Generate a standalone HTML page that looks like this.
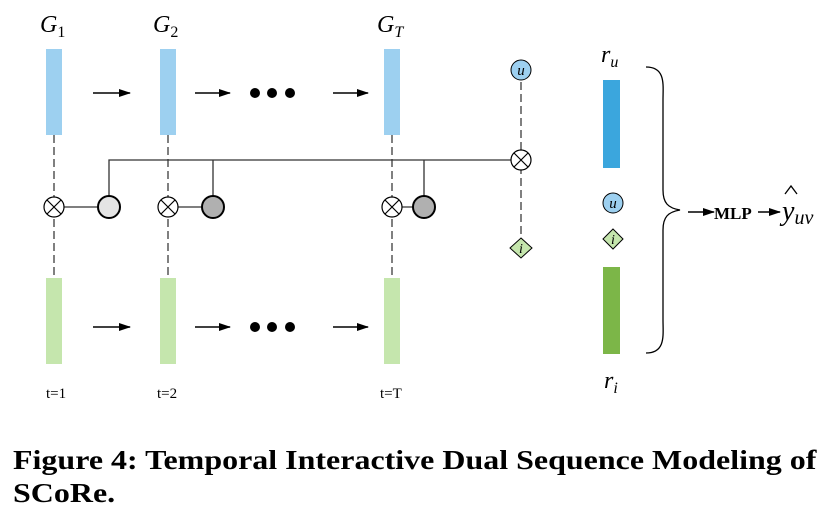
<!DOCTYPE html><html><head><style>body{margin:0;background:#fff}svg{display:block}</style></head><body>
<svg width="828" height="516" xmlns="http://www.w3.org/2000/svg" font-family="Liberation Serif, serif">
<defs><marker id="a" markerWidth="12" markerHeight="8" refX="11" refY="4" orient="auto" markerUnits="userSpaceOnUse"><path d="M0,0L12,4L0,8z" fill="#000"/></marker>
<g id="x"><circle r="10" fill="#fff" stroke="#000" stroke-width="1.2"/><path d="M-7,-7L7,7M7,-7L-7,7" stroke="#000" stroke-width="1.2"/></g></defs>
<g font-style="italic" font-size="24"><text x="40" y="32">G<tspan font-size="16" font-style="normal" dy="5">1</tspan></text>
<text x="153" y="32">G<tspan font-size="16" font-style="normal" dy="5">2</tspan></text>
<text x="377" y="32">G<tspan font-size="16" dy="5">T</tspan></text></g>
<g fill="#9dd0f0"><rect x="46" y="49" width="16" height="86"/><rect x="160" y="49" width="16" height="86"/><rect x="384" y="49" width="16" height="86"/></g>
<g fill="#c5e6ad"><rect x="46" y="278" width="16" height="86"/><rect x="160" y="278" width="16" height="86"/><rect x="384" y="278" width="16" height="86"/></g>
<g stroke="#000" stroke-dasharray="8,4" stroke-width="1"><path d="M54,135V278M168,135V278M392,135V278M521,82V248"/></g>
<g stroke="#000" stroke-width="1.5" marker-end="url(#a)"><path d="M93,93H130"/><path d="M195,93H230"/><path d="M333,93H368"/><path d="M93,327H130"/><path d="M195,327H230"/><path d="M333,327H368"/></g>
<g fill="#000"><circle cx="255" cy="93" r="5"/><circle cx="272" cy="93" r="5"/><circle cx="290" cy="93" r="5"/><circle cx="255" cy="327" r="5"/><circle cx="272" cy="327" r="5"/><circle cx="290" cy="327" r="5"/></g>
<g stroke="#333" stroke-width="1.3" fill="none"><path d="M109,196V160H511M213,196V160M424,196V160M54,207H100M168,207H203M392,207H414"/></g>
<circle cx="109" cy="207" r="11" fill="#e4e4e4" stroke="#000" stroke-width="2"/>
<circle cx="213" cy="207" r="11" fill="#b0b0b0" stroke="#000" stroke-width="2"/>
<circle cx="424" cy="207" r="11" fill="#b0b0b0" stroke="#000" stroke-width="2"/>
<use href="#x" x="54" y="207"/><use href="#x" x="168" y="207"/><use href="#x" x="392" y="207"/><use href="#x" x="521" y="160"/>
<circle cx="521" cy="70" r="10" fill="#9dd0f0" stroke="#000"/><text x="521" y="75" text-anchor="middle" font-style="italic" font-size="15">u</text>
<path d="M521,238L532,248L521,258L510,248z" fill="#c5e6ad" stroke="#000"/><text x="521" y="253" text-anchor="middle" font-style="italic" font-size="14">i</text>
<g font-size="15"><text x="46" y="398">t=1</text><text x="157" y="398">t=2</text><text x="380" y="398">t=T</text></g>
<text x="601" y="62" font-style="italic" font-size="24">r<tspan font-size="16" dy="5">u</tspan></text>
<text x="604" y="388" font-style="italic" font-size="24">r<tspan font-size="16" dy="5">i</tspan></text>
<rect x="603" y="80" width="17" height="88" fill="#3ba6dd"/><rect x="603" y="267" width="17" height="87" fill="#7cb648"/>
<circle cx="613" cy="203" r="10" fill="#9dd0f0" stroke="#000"/><text x="613" y="208" text-anchor="middle" font-style="italic" font-size="15">u</text>
<path d="M613,229L623,239L613,249L603,239z" fill="#c5e6ad" stroke="#000"/><text x="613" y="244" text-anchor="middle" font-style="italic" font-size="14">i</text>
<path d="M646,67C666,67 663,85 663,100V190C663,203 668,208 680,210C668,212 663,217 663,230V320C663,335 666,353 646,353" fill="none" stroke="#000" stroke-width="1.3"/>
<g stroke="#000" stroke-width="1.5" marker-end="url(#a)"><path d="M688,212H714"/><path d="M758,212H780"/></g>
<text x="714" y="219" font-weight="bold" font-size="17">MLP</text>
<text x="782" y="220" font-style="italic" font-size="28">y<tspan font-size="20" dy="4">uv</tspan></text>
<path d="M785,194L791,186L797,194" fill="none" stroke="#000" stroke-width="1.3"/>
<g font-weight="bold" font-size="27" transform="translate(13,0) scale(1.185,1)"><text x="0" y="469">Figure 4: Temporal Interactive Dual Sequence Modeling of</text><text x="0" y="502">SCoRe.</text></g>
</svg></body></html>
